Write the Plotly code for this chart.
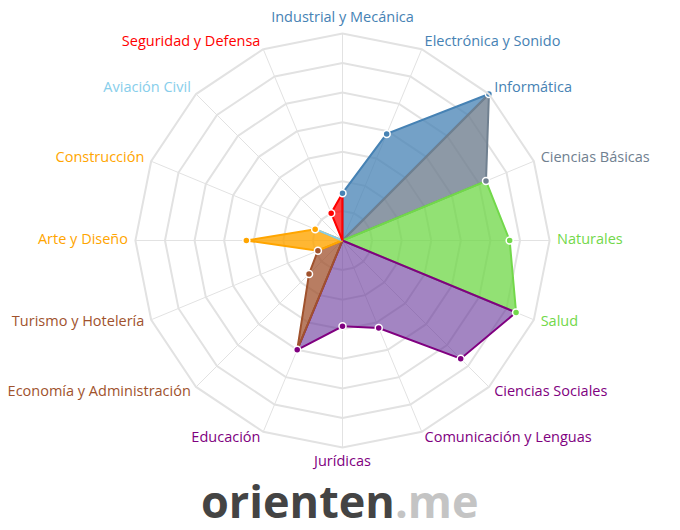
import plotly.graph_objects as go

# Categories, clockwise from the top
CATEGORIES = [
    "Industrial y Mecánica", "Electrónica y Sonido", "Informática", "Ciencias Básicas",
    "Naturales", "Salud", "Ciencias Sociales", "Comunicación y Lenguas",
    "Jurídicas", "Educación", "Economía y Administración", "Turismo y Hotelería",
    "Arte y Diseño", "Construcción", "Aviación Civil", "Seguridad y Defensa",
]
VALUES = [1.6, 3.9, 7.0, 5.25, 5.65, 6.35, 5.65, 3.2, 2.9, 4.0, 1.6, 0.9, 3.25, 1.0, 0.0, 1.0]

# Area groups: (category indices of the wedge, line colour, fill colour)
GROUPS = [
    ([0, 1, 2], "#4682b4", "rgba(70,130,180,0.75)"),
    ([2, 3], "#708090", "rgba(112,128,144,0.8)"),
    ([3, 4, 5], "#72d84a", "rgba(110,215,70,0.75)"),
    ([5, 6, 7, 8, 9], "#800080", "rgba(102,51,153,0.6)"),
    ([9, 10, 11], "#a0522d", "rgba(160,82,45,0.75)"),
    ([11, 12, 13], "#ffa500", "rgba(255,165,0,0.8)"),
    ([13, 14], "#87ceeb", "rgba(135,206,235,0.8)"),
    ([14, 15, 0], "#ff0000", "rgba(255,0,0,0.75)"),
]

# Colour for every category label / marker
LABEL_COLORS = [
    "#4682b4", "#4682b4", "#4682b4", "#708090",
    "#72d84a", "#72d84a", "#800080", "#800080",
    "#800080", "#800080", "#a0522d", "#a0522d",
    "#ffa500", "#ffa500", "#87ceeb", "#ff0000",
]

GRID = "#e2e2e2"
R_MAX = 7
LABEL_R = 7.25
# inner polar is shrunk so that r=7 there equals r=7 in the label polar
PAD = (1 - R_MAX / LABEL_R) / 2

fig = go.Figure()

for idx, line_c, fill_c in GROUPS:
    theta = [CATEGORIES[idx[0]]] + [CATEGORIES[i] for i in idx] + [CATEGORIES[idx[-1]]]
    r = [0] + [VALUES[i] for i in idx] + [0]
    fig.add_trace(go.Scatterpolar(
        r=r, theta=theta, mode="lines", fill="toself",
        fillcolor=fill_c, line=dict(color=line_c, width=2),
        hoverinfo="skip", showlegend=False,
    ))

fig.add_trace(go.Scatterpolar(
    r=VALUES, theta=CATEGORIES, mode="markers",
    marker=dict(size=7, color=LABEL_COLORS, line=dict(color="white", width=1.5)),
    showlegend=False,
))

# category labels on an invisible, slightly larger polar
positions = (["top center"] + ["middle right"] * 7 + ["bottom center"]
             + ["middle left"] * 7)
fig.add_trace(go.Scatterpolar(
    r=[LABEL_R] * len(CATEGORIES), theta=CATEGORIES, mode="text",
    text=CATEGORIES, textposition=positions,
    textfont=dict(color=LABEL_COLORS, size=14.5, family="Open Sans, sans-serif"),
    cliponaxis=False, hoverinfo="skip", showlegend=False, subplot="polar2",
))

fig.update_layout(
    width=680, height=530,
    paper_bgcolor="white",
    margin=dict(l=120, r=131, t=18, b=83),
    font=dict(family="Open Sans, sans-serif", size=14.5),
    polar=dict(
        domain=dict(x=[PAD, 1 - PAD], y=[PAD, 1 - PAD]),
        bgcolor="white",
        gridshape="linear",
        radialaxis=dict(range=[0, R_MAX], dtick=1, showticklabels=False, ticks="",
                        showline=False, gridcolor=GRID, gridwidth=2),
        angularaxis=dict(
            direction="clockwise", rotation=90,
            categoryorder="array", categoryarray=CATEGORIES,
            showticklabels=False, ticks="",
            gridcolor=GRID, gridwidth=1,
            linecolor=GRID, linewidth=2,
        ),
    ),
    polar2=dict(
        domain=dict(x=[0, 1], y=[0, 1]),
        bgcolor="rgba(0,0,0,0)",
        gridshape="linear",
        radialaxis=dict(range=[0, LABEL_R], visible=False),
        angularaxis=dict(
            direction="clockwise", rotation=90,
            categoryorder="array", categoryarray=CATEGORIES,
            showticklabels=False, ticks="", showgrid=False, showline=False,
        ),
    ),
    annotations=[dict(
        text='<b><span style="color:#444444">orienten</span>'
             '<span style="color:#c4c4c4">.me</span></b>',
        xref="paper", yref="paper", x=0.494, y=-0.107,
        xanchor="center", yanchor="middle", showarrow=False,
        font=dict(family="Open Sans, sans-serif", size=45),
    )],
)

fig.write_html("out.html")
